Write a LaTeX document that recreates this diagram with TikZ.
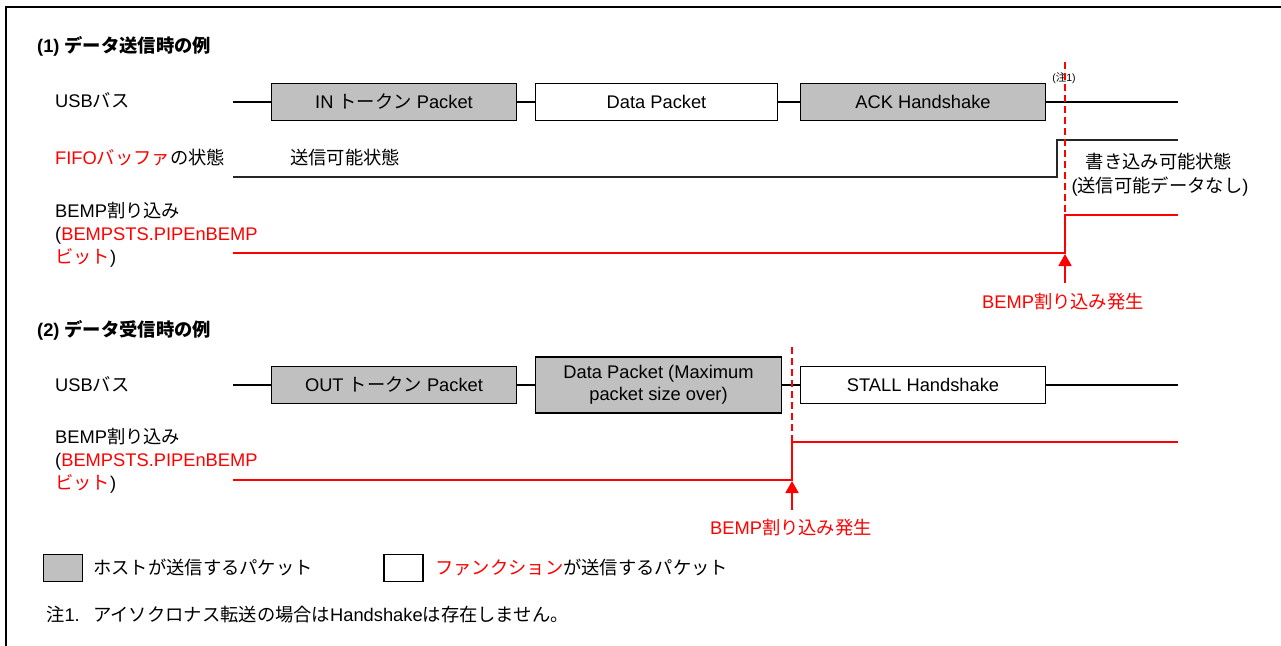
\documentclass[tikz,border=0pt]{standalone}
\usepackage{fontspec}
\setmainfont{Liberation Sans}
\newfontfamily\jpf{Noto Sans CJK JP}
\newcommand\J[1]{{\jpf #1}}
\newcommand\fs{\fontsize{18.3pt}{22pt}\selectfont}
\usetikzlibrary{arrows.meta}
\definecolor{hostgray}{HTML}{C0C0C0}
\definecolor{sigred}{HTML}{FF0000}
\tikzset{
  lbl/.style={anchor=base west, inner sep=0pt, font=\fs},
  ctr/.style={anchor=base, inner sep=0pt, font=\fs},
  pkt/.style={draw=black, line width=1.9pt, minimum height=37pt, inner sep=0pt, font=\fs, align=center},
  hostpkt/.style={pkt, fill=hostgray},
  funcpkt/.style={pkt, fill=white},
  busline/.style={line width=1.9pt, black},
  fifoline/.style={line width=1.9pt, black!85},
  redline/.style={line width=1.9pt, sigred},
  reddash/.style={line width=2.6pt, sigred, dash pattern=on 7pt off 4pt},
  redarrow/.style={line width=1.9pt, sigred, -{Triangle[width=13pt,length=12pt]}},
  framestyle/.style={line width=2.5pt, black},
  legbox/.style={draw=black, line width=1.9pt, minimum width=39pt, minimum height=27pt, inner sep=0pt}
}
\begin{document}
\begin{tikzpicture}[x=1pt,y=-1pt]
\useasboundingbox (0,0) rectangle (1281,645);
\fill[white] (0,0) rectangle (1281,645);
% frame
\coordinate (fbl) at (6,646);
\coordinate (ftl) at (6,7);
\coordinate (ftr) at (1282,7);
\draw[framestyle] (fbl) -- (ftl) -- (ftr);

% ===== Section 1 =====
\node[lbl] (t1) at (37,52) {\bfseries (1) \J{データ送信時の例}};
\node[lbl] (usb1) at (55,107.5) {USB\J{バス}};
\node[lbl] (fifo1) at (55,164.5) {\textcolor{sigred}{FIFO\J{バッファ}}\J{の状態}};
\node[lbl] (bempa1) at (55,217.5) {BEMP\J{割り込み}};
\node[lbl] (bempb1) at (55,240.5) {(\textcolor{sigred}{BEMPSTS.PIPEnBEMP}};
\node[lbl] (bempc1) at (55,263.5) {\textcolor{sigred}{\J{ビット}})};

% bus 1
\coordinate (b1s) at (233,102);
\coordinate (b1e) at (1178,102);
\node[hostpkt, minimum width=245pt] (in1) at (394,102) {IN \J{トークン} Packet};
\node[funcpkt, minimum width=242pt] (dp1) at (656.5,102) {Data Packet};
\node[hostpkt, minimum width=245pt] (ack1) at (923,102) {ACK Handshake};
\draw[busline] (b1s) -- (in1.west);
\draw[busline] (in1.east) -- (dp1.west);
\draw[busline] (dp1.east) -- (ack1.west);
\draw[busline] (ack1.east) -- (b1e);

% FIFO state
\coordinate (f1a) at (233,177);
\coordinate (f1b) at (1057,177);
\coordinate (f1c) at (1057,140);
\coordinate (f1d) at (1178,140);
\draw[fifoline] (f1a) -- (f1b) -- (f1c) -- (f1d);
\node[ctr] (st1) at (345,164.5) {\J{送信可能状態}};
\node[ctr] (st2) at (1159,168.5) {\J{書き込み可能状態}};
\node[ctr] (st3) at (1160,192.5) {(\J{送信可能データなし})};

% BEMP 1
\coordinate (r1a) at (233,253);
\coordinate (r1b) at (1065,253);
\coordinate (r1c) at (1065,215);
\coordinate (r1d) at (1178,215);
\draw[redline] (r1a) -- (r1b) -- (r1c) -- (r1d);

% note mark and dashed line
\node[anchor=base, inner sep=0pt, font=\fontsize{10.5pt}{12pt}\selectfont] (note1) at (1064,81) {(\J{注}1)};
\coordinate (d1t) at (1065,62);
\coordinate (d1b) at (1065,215);
\draw[reddash] (d1t) -- (d1b);

% arrow 1
\coordinate (a1s) at (1065,283);
\coordinate (a1t) at (1065,254);
\draw[redarrow] (a1s) -- (a1t);
\node[ctr, text=sigred] (ev1) at (1063,308.5) {BEMP\J{割り込み発生}};

% ===== Section 2 =====
\node[lbl] (t2) at (37,336.5) {\bfseries (2) \J{データ受信時の例}};
\node[lbl] (usb2) at (55,391.5) {USB\J{バス}};
\node[lbl] (bempa2) at (55,443.5) {BEMP\J{割り込み}};
\node[lbl] (bempb2) at (55,466.5) {(\textcolor{sigred}{BEMPSTS.PIPEnBEMP}};
\node[lbl] (bempc2) at (55,489.5) {\textcolor{sigred}{\J{ビット}})};

\coordinate (b2s) at (233,385);
\coordinate (b2e) at (1178,385);
\node[hostpkt, minimum width=245pt] (out2) at (394,385) {OUT \J{トークン} Packet};
\node[hostpkt, minimum width=246pt, minimum height=56pt] (dp2) at (658.5,385) {Data Packet (Maximum\\packet size over)};
\node[funcpkt, minimum width=245pt] (stall2) at (923,385) {STALL Handshake};
\draw[busline] (b2s) -- (out2.west);
\draw[busline] (out2.east) -- (dp2.west);
\draw[busline] (dp2.east) -- (stall2.west);
\draw[busline] (stall2.east) -- (b2e);

\coordinate (r2a) at (233,480);
\coordinate (r2b) at (792,480);
\coordinate (r2c) at (792,442);
\coordinate (r2d) at (1178,442);
\draw[redline] (r2a) -- (r2b) -- (r2c) -- (r2d);

\coordinate (d2t) at (792,347);
\coordinate (d2b) at (792,442);
\draw[reddash] (d2t) -- (d2b);

\coordinate (a2s) at (792,510);
\coordinate (a2t) at (792,481);
\draw[redarrow] (a2s) -- (a2t);
\node[ctr, text=sigred] (ev2) at (791,534.5) {BEMP\J{割り込み発生}};

% ===== Legend =====
\node[legbox, fill=hostgray] (lg1) at (63,568) {};
\node[lbl] (lt1) at (93,574.5) {\J{ホストが送信するパケット}};
\node[legbox, fill=white] (lg2) at (403.5,568) {};
\node[lbl] (lt2) at (435,574.5) {\textcolor{sigred}{\J{ファンクション}}\J{が送信するパケット}};

\node[lbl] (nt1) at (46,621.5) {\J{注}1.};
\node[lbl] (nt2) at (93,621.5) {\J{アイソクロナス転送の場合は}Handshake\J{は存在しません。}};
\end{tikzpicture}
\end{document}
